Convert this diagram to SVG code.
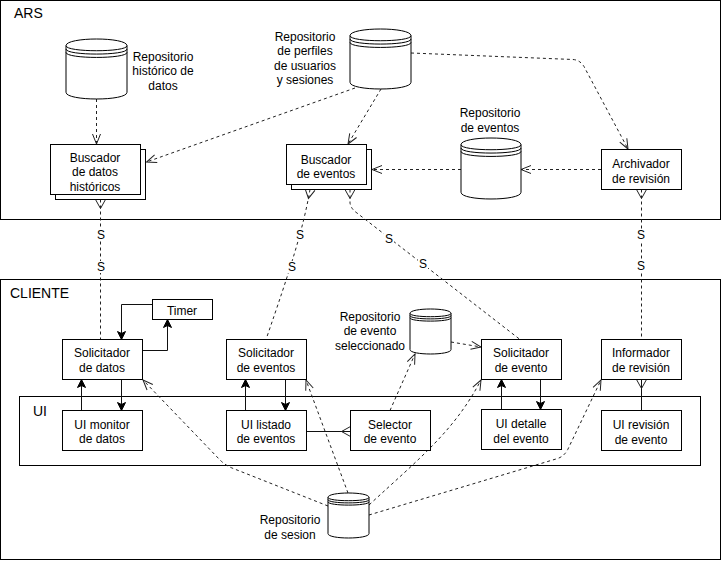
<svg xmlns="http://www.w3.org/2000/svg" width="722" height="561" viewBox="0 0 722 561">
  <style>
    text { font-family: "Liberation Sans", Arial, Helvetica, sans-serif; font-size: 12px; fill: #000; }
    .title { font-size: 14px; }
    .c { text-anchor: middle; }
    .box { fill: #fff; stroke: #000; stroke-width: 1; }
    .frame { fill: #fff; stroke: #000; stroke-width: 1; }
    .db { fill: #fff; stroke: #000; stroke-width: 1; }
    .arc { fill: none; stroke: #000; stroke-width: 1; }
    .dash { fill: none; stroke: #222; stroke-width: 1; stroke-dasharray: 3 3; }
    .solid { fill: none; stroke: #111; stroke-width: 1; }
    .lblbg { fill: #fff; stroke: none; }
  </style>
  <defs>
    <marker id="open" viewBox="-11 -5 12 10" markerWidth="12" markerHeight="10" refX="0" refY="0" orient="auto" markerUnits="userSpaceOnUse" overflow="visible">
      <path d="M-10,-4 L0,0 L-10,4" fill="none" stroke="#222" stroke-width="1" stroke-dasharray="none"/>
    </marker>
    <marker id="block" viewBox="-9 -5 10 10" markerWidth="10" markerHeight="10" refX="0" refY="0" orient="auto" markerUnits="userSpaceOnUse" overflow="visible">
      <path d="M0,0 L-8,-4 L-6,0 L-8,4 Z" fill="#000" stroke="#000" stroke-width="1" stroke-dasharray="none"/>
    </marker>
    <marker id="foot" viewBox="-1 -6 11 12" markerWidth="11" markerHeight="12" refX="0" refY="0" orient="auto" markerUnits="userSpaceOnUse" overflow="visible">
      <path d="M0,-5 L9,0 L0,5" fill="none" stroke="#222" stroke-width="1" stroke-dasharray="none"/>
    </marker>
    <marker id="foot-end" viewBox="-10 -6 11 12" markerWidth="11" markerHeight="12" refX="0" refY="0" orient="auto" markerUnits="userSpaceOnUse" overflow="visible">
      <path d="M0,-5 L-9,0 L0,5" fill="none" stroke="#222" stroke-width="1" stroke-dasharray="none"/>
    </marker>
  </defs>

  <!-- containers -->
  <g id="ars">
    <rect class="frame" x="0.5" y="0.5" width="720" height="219"/>
    <text class="title" x="14" y="18">ARS</text>
  </g>
  <g id="cliente">
    <rect class="frame" x="0.5" y="279.5" width="720" height="280"/>
    <text class="title" x="10" y="298">CLIENTE</text>
  </g>
  <g id="ui">
    <rect class="frame" x="19.5" y="396.5" width="681" height="69"/>
    <text class="title" x="33" y="416">UI</text>
  </g>

  <!-- connectors -->
  <g id="connectors">
    <!-- ARS internal flows -->
    <path class="dash" d="M96.5,99 L96.5,144" marker-end="url(#open)"/>
    <path class="dash" d="M355,88 L146.5,162" marker-end="url(#open)"/>
    <path class="dash" d="M381,89 L348,144" marker-end="url(#open)"/>
    <path class="dash" d="M411,53 L573,59.5 Q580,60 584,66.5 L628,149" marker-end="url(#open)"/>
    <path class="dash" d="M601,169.5 L521,169.5" marker-end="url(#open)"/>
    <path class="dash" d="M461,169.5 L372,169.5" marker-end="url(#open)"/>

    <!-- ARS / CLIENTE interfaces -->
    <path class="dash" d="M100.5,199.5 L100.5,339.5" marker-start="url(#foot)"/>
    <path class="dash" d="M310,189.5 C303,230 290,270 266,339.5" marker-start="url(#foot)"/>
    <path class="dash" d="M350,189.5 L350,203 Q351,209 357,213 L520,339.5" marker-start="url(#foot)"/>
    <path class="dash" d="M641.5,189.5 L641.5,339.5" marker-start="url(#foot)"/>

    <!-- Timer loop -->
    <path class="solid" d="M152.5,304.5 L121.5,304.5 L121.5,339.5" marker-end="url(#block)"/>
    <path class="solid" d="M142.5,350.5 L167.5,350.5 L167.5,319.5" marker-end="url(#block)"/>

    <!-- Solicitadores / UI -->
    <path class="solid" d="M81.5,410.5 L81.5,379.5" marker-end="url(#block)"/>
    <path class="solid" d="M121.5,379.5 L121.5,410.5" marker-end="url(#block)"/>
    <path class="solid" d="M245.5,410.5 L245.5,379.5" marker-end="url(#block)"/>
    <path class="solid" d="M285.5,379.5 L285.5,410.5" marker-end="url(#block)"/>
    <path class="solid" d="M501.5,409.5 L501.5,379.5" marker-end="url(#block)"/>
    <path class="solid" d="M540.5,379.5 L540.5,409.5" marker-end="url(#block)"/>
    <path class="solid" d="M641.5,379.5 L641.5,410.5" marker-start="url(#foot)"/>
    <path class="solid" d="M306.5,431.5 L350.5,431.5" marker-end="url(#foot-end)"/>

    <!-- selected event repository -->
    <path class="dash" d="M390,410.5 L415,354" marker-end="url(#open)"/>
    <path class="dash" d="M451,342 L481,347" marker-end="url(#open)"/>

    <!-- session repository -->
    <path class="dash" d="M328,506 L232,468 Q225,465 220,460 L143,380" marker-end="url(#open)"/>
    <path class="dash" d="M348,493 L306,380" marker-end="url(#open)"/>
    <path class="dash" d="M369,505 C420,458 455,430 481,380" marker-end="url(#open)"/>
    <path class="dash" d="M369,515 L556,459 Q564,457 568,449 L601,380" marker-end="url(#open)"/>

    <!-- interface labels -->
    <rect class="lblbg" x="96" y="229" width="10" height="12"/>
    <text class="c" x="101" y="239">S</text>
    <rect class="lblbg" x="96" y="261" width="10" height="12"/>
    <text class="c" x="101" y="271">S</text>
    <rect class="lblbg" x="295" y="229" width="10" height="12"/>
    <text class="c" x="300" y="239">S</text>
    <rect class="lblbg" x="287" y="261" width="10" height="12"/>
    <text class="c" x="292" y="271">S</text>
    <rect class="lblbg" x="384" y="233" width="10" height="12"/>
    <text class="c" x="389" y="243">S</text>
    <rect class="lblbg" x="418" y="258" width="10" height="12"/>
    <text class="c" x="423" y="268">S</text>
    <rect class="lblbg" x="636" y="229" width="10" height="12"/>
    <text class="c" x="641" y="239">S</text>
    <rect class="lblbg" x="636" y="260" width="10" height="12"/>
    <text class="c" x="641" y="270">S</text>
  </g>

  <!-- ARS nodes -->
  <g id="repo-historico">
    <path class="db" d="M66,45.7 C66,36.77 127,36.77 127,45.7 L127,92.3 C127,101.23 66,101.23 66,92.3 Z"/>
    <path class="arc" d="M66,45.7 C66,52.4 127,52.4 127,45.7 M66,49.05 C66,55.75 127,55.75 127,49.05 M66,52.4 C66,59.1 127,59.1 127,52.4"/>
    <text class="c" x="163"><tspan x="163" y="60.5">Repositorio</tspan><tspan x="163" y="75">histórico de</tspan><tspan x="163" y="89.5">datos</tspan></text>
  </g>
  <g id="repo-perfiles">
    <path class="db" d="M350,35.7 C350,26.77 411,26.77 411,35.7 L411,82.3 C411,91.23 350,91.23 350,82.3 Z"/>
    <path class="arc" d="M350,35.7 C350,42.4 411,42.4 411,35.7 M350,39.05 C350,45.75 411,45.75 411,39.05 M350,42.4 C350,49.1 411,49.1 411,42.4"/>
    <text class="c" x="305"><tspan x="305" y="40.5">Repositorio</tspan><tspan x="305" y="55">de perfiles</tspan><tspan x="305" y="69.5">de usuarios</tspan><tspan x="305" y="84">y sesiones</tspan></text>
  </g>
  <g id="repo-eventos">
    <path class="db" d="M461,144.7 C461,135.77 521,135.77 521,144.7 L521,192.3 C521,201.23 461,201.23 461,192.3 Z"/>
    <path class="arc" d="M461,144.7 C461,151.4 521,151.4 521,144.7 M461,148.05 C461,154.75 521,154.75 521,148.05 M461,151.4 C461,158.1 521,158.1 521,151.4"/>
    <text class="c" x="490"><tspan x="490" y="117">Repositorio</tspan><tspan x="490" y="131.5">de eventos</tspan></text>
  </g>
  <g id="buscador-datos">
    <rect class="box" x="55.5" y="149.5" width="90" height="50"/>
    <rect class="box" x="50.5" y="144.5" width="90" height="50"/>
    <text class="c" x="95"><tspan x="95" y="161.5">Buscador</tspan><tspan x="95" y="176">de datos</tspan><tspan x="95" y="190.5">históricos</tspan></text>
  </g>
  <g id="buscador-eventos">
    <rect class="box" x="291.5" y="149.5" width="80" height="40"/>
    <rect class="box" x="286.5" y="144.5" width="80" height="40"/>
    <text class="c" x="326"><tspan x="326" y="163.5">Buscador</tspan><tspan x="326" y="178">de eventos</tspan></text>
  </g>
  <g id="archivador">
    <rect class="box" x="601.5" y="149.5" width="80" height="40"/>
    <text class="c" x="641"><tspan x="641" y="168">Archivador</tspan><tspan x="641" y="182.5">de revisión</tspan></text>
  </g>

  <!-- CLIENTE nodes -->
  <g id="timer">
    <rect class="box" x="152.5" y="299.5" width="60" height="20"/>
    <text class="c" x="182" y="314.5">Timer</text>
  </g>
  <g id="solicitador-datos">
    <rect class="box" x="62.5" y="339.5" width="80" height="40"/>
    <text class="c" x="102"><tspan x="102" y="357">Solicitador</tspan><tspan x="102" y="371.5">de datos</tspan></text>
  </g>
  <g id="solicitador-eventos">
    <rect class="box" x="226.5" y="339.5" width="80" height="40"/>
    <text class="c" x="266"><tspan x="266" y="357">Solicitador</tspan><tspan x="266" y="371.5">de eventos</tspan></text>
  </g>
  <g id="repo-seleccionado">
    <path class="db" d="M410,313.4 C410,307.53 451,307.53 451,313.4 L451,349.6 C451,355.47 410,355.47 410,349.6 Z"/>
    <path class="arc" d="M410,313.4 C410,317.8 451,317.8 451,313.4 M410,315.6 C410,320 451,320 451,315.6 M410,317.8 C410,322.2 451,322.2 451,317.8"/>
    <text class="c" x="370"><tspan x="370" y="320.5">Repositorio</tspan><tspan x="370" y="335">de evento</tspan><tspan x="370" y="349.5">seleccionado</tspan></text>
  </g>
  <g id="solicitador-evento">
    <rect class="box" x="481.5" y="339.5" width="80" height="40"/>
    <text class="c" x="521"><tspan x="521" y="357">Solicitador</tspan><tspan x="521" y="371.5">de evento</tspan></text>
  </g>
  <g id="informador">
    <rect class="box" x="601.5" y="339.5" width="80" height="40"/>
    <text class="c" x="641"><tspan x="641" y="357">Informador</tspan><tspan x="641" y="371.5">de revisión</tspan></text>
  </g>
  <g id="ui-monitor">
    <rect class="box" x="62.5" y="410.5" width="80" height="40"/>
    <text class="c" x="102"><tspan x="102" y="428.5">UI monitor</tspan><tspan x="102" y="443">de datos</tspan></text>
  </g>
  <g id="ui-listado">
    <rect class="box" x="226.5" y="410.5" width="80" height="40"/>
    <text class="c" x="266"><tspan x="266" y="428.5">UI listado</tspan><tspan x="266" y="443">de eventos</tspan></text>
  </g>
  <g id="selector">
    <rect class="box" x="350.5" y="410.5" width="80" height="40"/>
    <text class="c" x="390"><tspan x="390" y="428.5">Selector</tspan><tspan x="390" y="443">de evento</tspan></text>
  </g>
  <g id="ui-detalle">
    <rect class="box" x="481.5" y="409.5" width="80" height="40"/>
    <text class="c" x="521"><tspan x="521" y="428">UI detalle</tspan><tspan x="521" y="442.5">del evento</tspan></text>
  </g>
  <g id="ui-revision">
    <rect class="box" x="601.5" y="410.5" width="80" height="40"/>
    <text class="c" x="641"><tspan x="641" y="429">UI revisión</tspan><tspan x="641" y="443.5">de evento</tspan></text>
  </g>
  <g id="repo-sesion">
    <path class="db" d="M328,497.4 C328,491.53 369,491.53 369,497.4 L369,533.6 C369,539.47 328,539.47 328,533.6 Z"/>
    <path class="arc" d="M328,497.4 C328,501.8 369,501.8 369,497.4 M328,499.6 C328,504 369,504 369,499.6 M328,501.8 C328,506.2 369,506.2 369,501.8"/>
    <text class="c" x="290"><tspan x="290" y="524">Repositorio</tspan><tspan x="290" y="538.5">de sesion</tspan></text>
  </g>
</svg>
